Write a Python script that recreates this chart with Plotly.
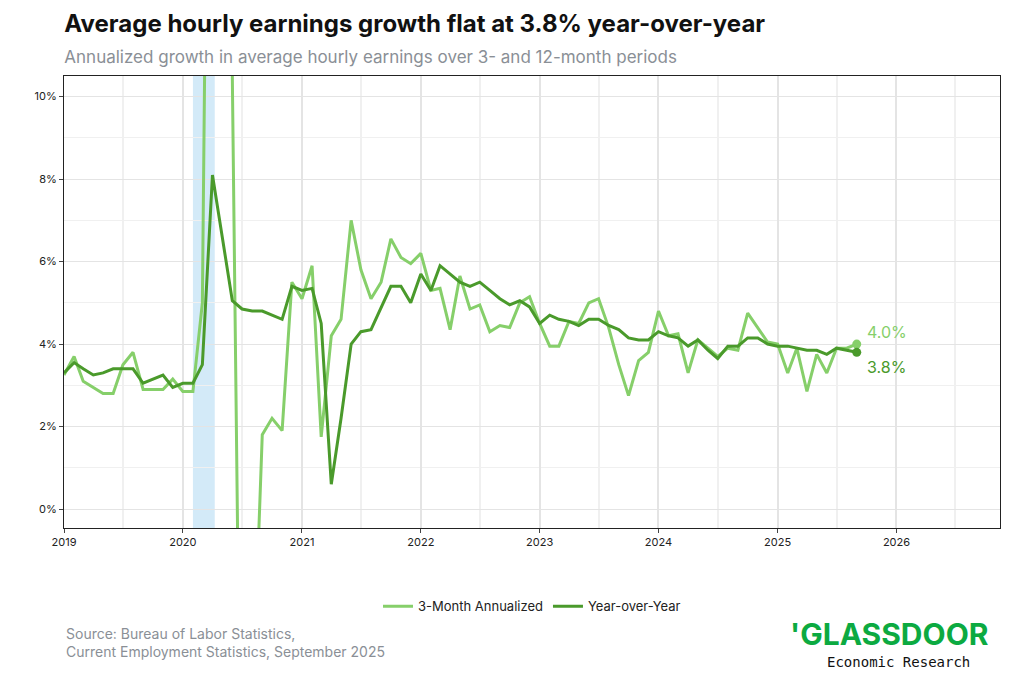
import plotly.graph_objects as go
import pandas as pd

dates = pd.date_range("2019-01-01", "2025-09-01", freq="MS")
yoy = [3.3,3.55,3.4,3.25,3.3,3.4,3.4,3.4,3.05,3.15,3.25,2.95,
       3.05,3.05,3.5,8.1,6.6,5.05,4.85,4.8,4.8,4.7,4.6,5.4,
       5.3,5.35,4.5,0.6,2.2,4.0,4.3,4.35,4.9,5.4,5.4,5.0,
       5.7,5.3,5.9,5.7,5.5,5.4,5.5,5.3,5.1,4.95,5.05,4.9,
       4.5,4.7,4.6,4.55,4.45,4.6,4.6,4.45,4.35,4.15,4.1,4.1,
       4.3,4.2,4.15,3.95,4.1,3.85,3.65,3.95,3.95,4.15,4.15,4.0,
       3.95,3.95,3.9,3.85,3.85,3.75,3.9,3.85,3.8]
m3 = [3.25,3.7,3.1,2.95,2.8,2.8,3.5,3.8,2.9,2.9,2.9,3.15,
      2.85,2.85,5.0,30,25,10.5,-10,-5,1.8,2.2,1.9,5.5,
      5.1,5.9,1.75,4.2,4.6,7.0,5.8,5.1,5.5,6.55,6.1,5.95,
      6.2,5.3,5.35,4.35,5.65,4.85,4.95,4.3,4.45,4.4,5.0,5.15,
      4.5,3.95,3.95,4.55,4.5,5.0,5.1,4.4,3.5,2.75,3.6,3.8,
      4.8,4.2,4.25,3.3,4.1,3.9,3.7,3.9,3.85,4.75,4.4,4.05,
      4.0,3.3,3.9,2.85,3.75,3.3,3.9,3.9,4.0]

light = "#86cf6a"
dark = "#4a9a2b"
fig = go.Figure()
fig.add_vrect(x0="2020-02-01", x1="2020-04-08", fillcolor="#d3eaf8", line_width=0, layer="below")
fig.add_trace(go.Scatter(x=dates, y=m3, mode="lines", name="3-Month Annualized",
                         line=dict(color=light, width=3)))
fig.add_trace(go.Scatter(x=dates, y=yoy, mode="lines", name="Year-over-Year",
                         line=dict(color=dark, width=3)))
fig.add_trace(go.Scatter(x=[dates[-1]], y=[m3[-1]], mode="markers", marker=dict(color=light, size=9), showlegend=False))
fig.add_trace(go.Scatter(x=[dates[-1]], y=[yoy[-1]], mode="markers", marker=dict(color=dark, size=9), showlegend=False))
fig.add_annotation(x=dates[-1], y=m3[-1]+0.3, text=f"{m3[-1]:.1f}%", showarrow=False, xanchor="left", xshift=8,
                   font=dict(size=16, color=light))
fig.add_annotation(x=dates[-1], y=yoy[-1]-0.35, text=f"{yoy[-1]:.1f}%", showarrow=False, xanchor="left", xshift=8,
                   font=dict(size=16, color=dark))

fig.update_layout(
    width=1024, height=682, plot_bgcolor="white", paper_bgcolor="white",
    font=dict(family="Inter, sans-serif", color="#222"),
    margin=dict(l=56, r=32, t=68, b=162),
    title=dict(text="<b>Average hourly earnings growth flat at 3.8% year-over-year</b><br>"
                    "<span style='font-size:17px;color:#8a8f96'>Annualized growth in average hourly earnings over 3- and 12-month periods</span>",
               x=0.055, xanchor="left", y=0.965, yanchor="top", font=dict(size=24, color="#111")),
    legend=dict(orientation="h", x=0.5, xanchor="center", y=-0.14, yanchor="top", font=dict(size=13)),
    xaxis=dict(range=["2019-01-01", "2026-11-15"], tickformat="%Y", dtick="M12", tick0="2019-01-01",
               showgrid=True, gridcolor="#e4e4e4", gridwidth=1.5,
               minor=dict(dtick="M6", showgrid=True, gridcolor="#f0f0f0"),
               showline=True, linecolor="#222", mirror=True, ticks="outside", ticklen=4,
               tickfont=dict(size=11), zeroline=False),
    yaxis=dict(range=[-0.46, 10.5], dtick=2, ticksuffix="%", showgrid=True, gridcolor="#e4e4e4",
               minor=dict(dtick=1, showgrid=True, gridcolor="#f0f0f0"),
               showline=True, linecolor="#222", mirror=True, ticks="outside", ticklen=4,
               tickfont=dict(size=11), zeroline=False),
)
fig.add_annotation(xref="paper", yref="paper", x=0.0, y=-0.21, xanchor="left", yanchor="top", align="left",
                   showarrow=False, text="Source: Bureau of Labor Statistics,<br>Current Employment Statistics, September 2025",
                   font=dict(size=14, color="#8a8f96"))
fig.add_annotation(xref="paper", yref="paper", x=0.99, y=-0.19, xanchor="right", yanchor="top", showarrow=False,
                   text="<b>'GLASSDOOR</b>", font=dict(size=30, color="#0caa41", family="Inter"))
fig.add_annotation(xref="paper", yref="paper", x=0.97, y=-0.275, xanchor="right", yanchor="top", showarrow=False,
                   text="Economic Research", font=dict(size=14, color="#111", family="DejaVu Sans Mono"))
fig.write_html("out.html")
